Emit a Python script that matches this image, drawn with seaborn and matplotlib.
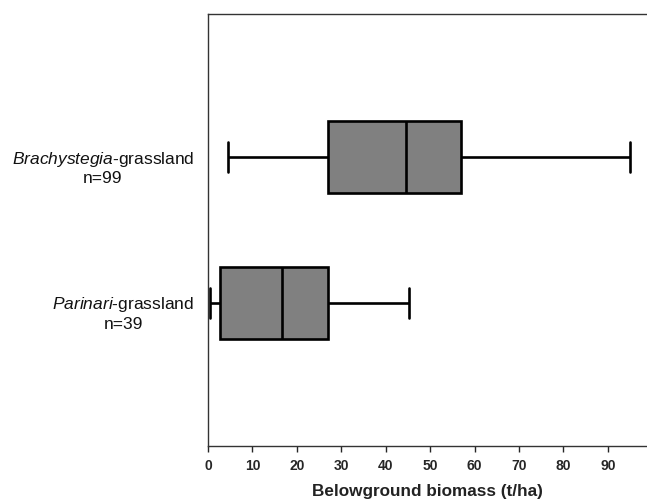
import numpy as np
import pandas as pd
import matplotlib.pyplot as plt
import matplotlib.transforms as mtransforms
import seaborn as sns

# groups and sample sizes
groups = ['Brachystegia', 'Parinari']
sample_sizes = [99, 39]
# five-number summaries (min, Q1, median, Q3, max), t/ha
brachystegia = [4.5, 27.0, 44.5, 56.9, 95.0]
parinari = [0.4, 2.6, 16.7, 27.1, 45.3]
x_ticks = list(range(0, 100, 10))

df = pd.DataFrame({
    'group': [groups[0]] * len(brachystegia) + [groups[1]] * len(parinari),
    'biomass': brachystegia + parinari,
})

sns.set_style('white')
plt.rcParams['font.family'] = ['Liberation Sans', 'DejaVu Sans']
plt.rcParams['mathtext.fontset'] = 'custom'
plt.rcParams['mathtext.it'] = 'Liberation Sans:italic'
plt.rcParams['mathtext.rm'] = 'Liberation Sans'

fig = plt.figure(figsize=(6.47, 5.01), dpi=100)
ax = fig.add_axes([208 / 647, 55 / 501, 439 / 647, 432 / 501])

sns.boxplot(data=df, x='biomass', y='group', order=groups, orient='h',
            whis=(0, 100), width=0.49, color='#808080', saturation=1,
            linecolor='black', linewidth=1.9, ax=ax, capwidths=0.2)

ax.set_xlim(0, 98.8)
ax.set_ylim(1.98, -0.98)

# y labels: italic genus name + n
labels = [r'$\it{%s}$-grassland' % g + '\nn=%d' % n for g, n in zip(groups, sample_sizes)]
ax.set_yticks([0, 1])
ax.set_yticklabels(labels, fontsize=12.5, multialignment='center', color='#111111')
ax.tick_params(axis='y', length=0, pad=10)
shift = mtransforms.ScaledTranslation(0, -8 / 100, fig.dpi_scale_trans)
for lab in ax.get_yticklabels():
    lab.set_transform(lab.get_transform() + shift)

ax.set_xticks(x_ticks)
ax.set_xticklabels([str(t) for t in x_ticks], fontsize=10, fontweight='bold')
ax.tick_params(axis='x', direction='out', length=4, width=1, bottom=True, pad=5)
ax.set_xlabel('Belowground biomass (t/ha)', fontsize=12.3, fontweight='bold',
              labelpad=8, color='#222222')
ax.set_ylabel('')

for side in ['top', 'left', 'bottom']:
    ax.spines[side].set_visible(True)
    ax.spines[side].set_color('#333333')
    ax.spines[side].set_linewidth(1)
ax.spines['right'].set_visible(False)

fig.savefig('out.png', dpi=100)
